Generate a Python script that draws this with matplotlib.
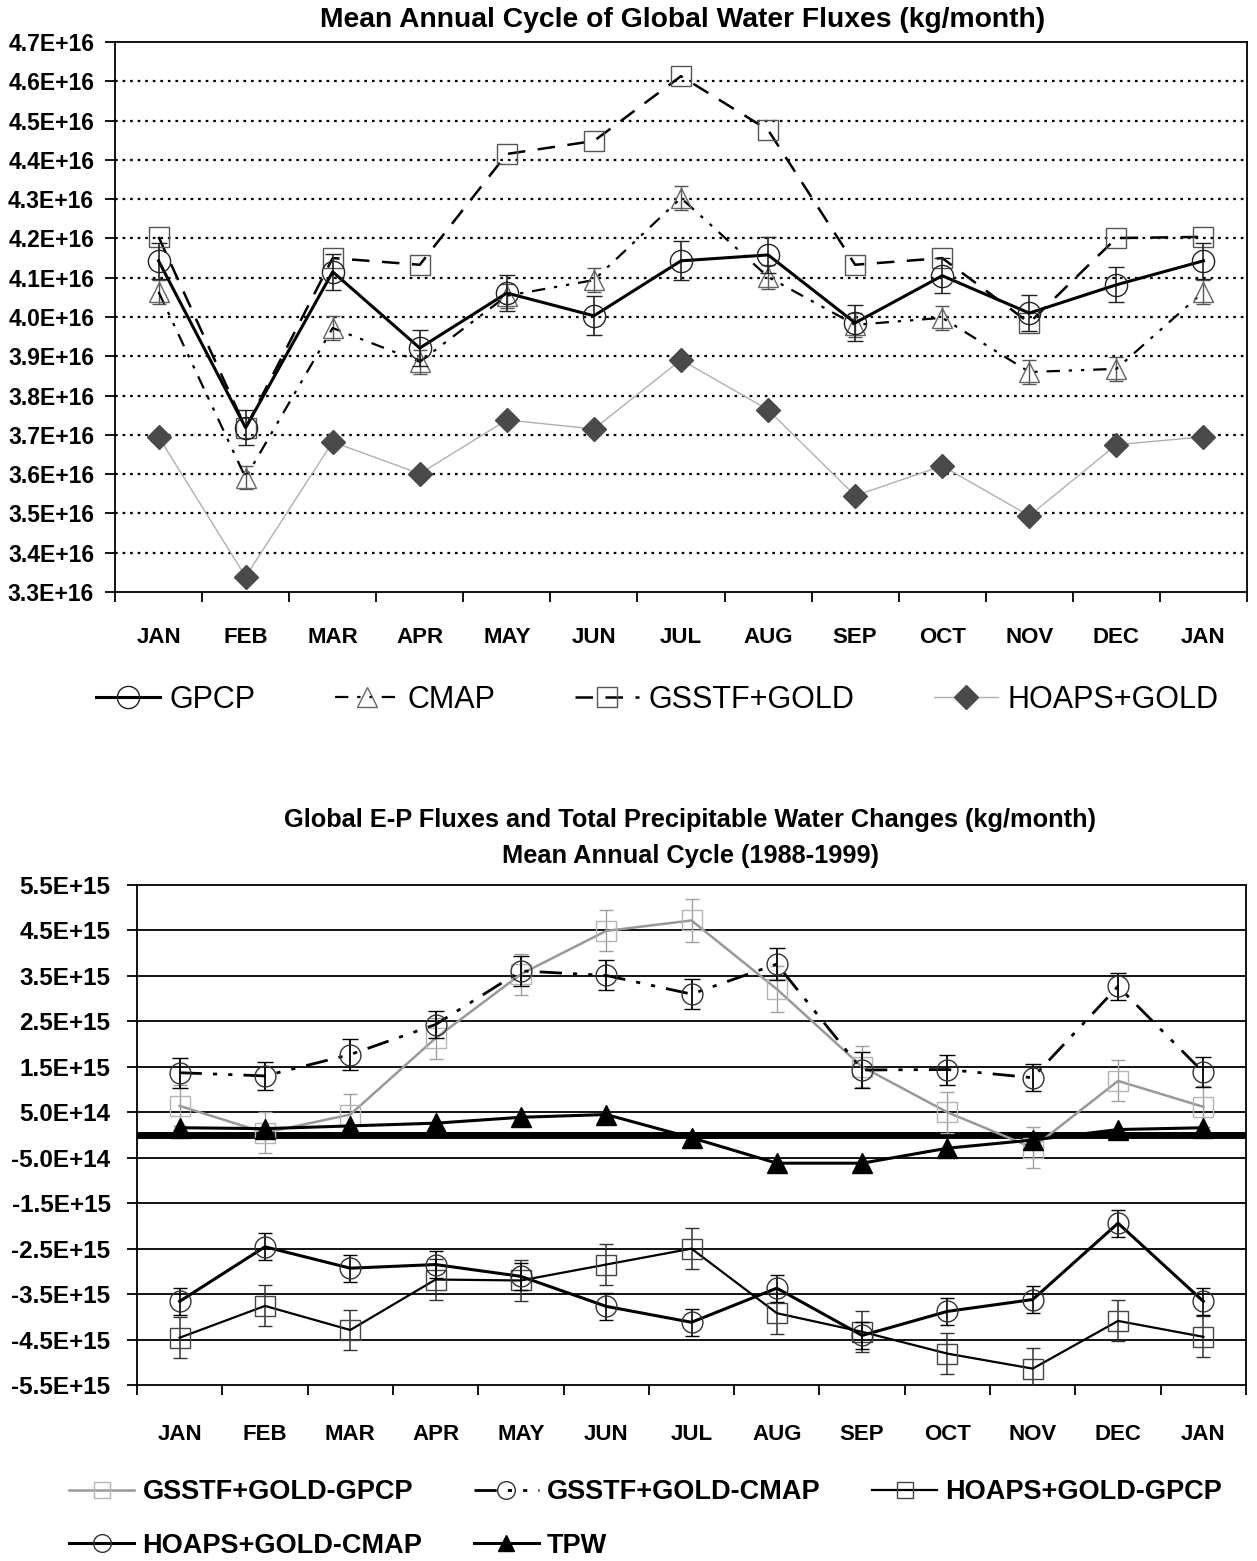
import matplotlib
matplotlib.use("Agg")
import matplotlib.pyplot as plt
import numpy as np

plt.rcParams['font.family'] = ['Liberation Sans', 'DejaVu Sans']

months = ["JAN", "FEB", "MAR", "APR", "MAY", "JUN", "JUL", "AUG", "SEP", "OCT", "NOV", "DEC", "JAN"]

# Top chart (units of 1E16 kg/month)
gpcp = [4.143, 3.718, 4.115, 3.921, 4.061, 4.003, 4.143, 4.158, 3.985, 4.105, 4.010, 4.082, 4.143]
gpcp_err = [0.045, 0.045, 0.045, 0.045, 0.045, 0.05, 0.05, 0.045, 0.045, 0.045, 0.045, 0.045, 0.045]
cmap = [4.064, 3.591, 3.972, 3.886, 4.054, 4.094, 4.303, 4.102, 3.980, 3.998, 3.860, 3.868, 4.064]
cmap_err = [0.03] * 13
gsstf = [4.204, 3.718, 4.150, 4.133, 4.415, 4.448, 4.613, 4.476, 4.133, 4.150, 3.985, 4.201, 4.204]
hoaps = [3.695, 3.339, 3.682, 3.601, 3.738, 3.715, 3.891, 3.764, 3.545, 3.621, 3.494, 3.675, 3.695]
top_ticks = [3.3, 3.4, 3.5, 3.6, 3.7, 3.8, 3.9, 4.0, 4.1, 4.2, 4.3, 4.4, 4.5, 4.6, 4.7]

# Bottom chart (units of 1E15 kg/month)
gg_gpcp = [0.64, 0.05, 0.45, 2.13, 3.54, 4.49, 4.72, 3.21, 1.50, 0.50, -0.28, 1.19, 0.62]
gg_gpcp_err = [0.45, 0.45, 0.45, 0.45, 0.45, 0.45, 0.48, 0.5, 0.45, 0.45, 0.45, 0.45, 0.45]
gg_cmap = [1.37, 1.30, 1.77, 2.43, 3.61, 3.51, 3.10, 3.76, 1.43, 1.44, 1.26, 3.27, 1.38]
gg_cmap_err = [0.33, 0.3, 0.35, 0.3, 0.33, 0.33, 0.33, 0.35, 0.4, 0.33, 0.3, 0.3, 0.33]
hg_gpcp = [-4.46, -3.76, -4.29, -3.18, -3.20, -2.85, -2.50, -3.92, -4.33, -4.81, -5.14, -4.09, -4.44]
hg_gpcp_err = [0.45, 0.45, 0.45, 0.45, 0.45, 0.45, 0.45, 0.45, 0.45, 0.45, 0.45, 0.45, 0.45]
hg_cmap = [-3.66, -2.46, -2.93, -2.85, -3.11, -3.77, -4.12, -3.37, -4.41, -3.88, -3.62, -1.94, -3.66]
hg_cmap_err = [0.3, 0.3, 0.3, 0.3, 0.3, 0.3, 0.3, 0.3, 0.3, 0.3, 0.3, 0.3, 0.3]
tpw = [0.16, 0.14, 0.20, 0.26, 0.39, 0.45, -0.06, -0.62, -0.62, -0.29, -0.11, 0.12, 0.16]
bot_ticks = [-5.5, -4.5, -3.5, -2.5, -1.5, -0.5, 0.5, 1.5, 2.5, 3.5, 4.5, 5.5]
bot_labels = ["-5.5E+15", "-4.5E+15", "-3.5E+15", "-2.5E+15", "-1.5E+15", "-5.0E+14",
              "5.0E+14", "1.5E+15", "2.5E+15", "3.5E+15", "4.5E+15", "5.5E+15"]

W, H = 1257, 1561
fig = plt.figure(figsize=(W / 100, H / 100), dpi=100)
fig.patch.set_facecolor('white')

x = np.arange(len(months))

def style_axes(ax, ysize, xpad, ypad):
    for s in ax.spines.values():
        s.set_color('black')
        s.set_linewidth(1.3)
    ax.set_xlim(-0.5, len(months) - 0.5)
    ax.set_xticks(x)
    ax.set_xticklabels(months, fontsize=16, fontweight='bold')
    ax.tick_params(axis='x', which='major', length=0, pad=xpad)
    ax.set_xticks(np.arange(-0.5, len(months), 1.0), minor=True)
    ax.tick_params(axis='x', which='minor', length=7, width=1.3, direction='out')
    ax.tick_params(axis='y', length=7, width=1.3, direction='out', pad=ypad, labelsize=ysize)

# ---------------- Top chart ----------------
ax1 = fig.add_axes([115 / W, 1 - 592 / H, (1247 - 115) / W, (592 - 42) / H])
style_axes(ax1, 16.5, 25, 8)
ax1.set_ylim(3.3, 4.7)
ax1.set_yticks(top_ticks)
ax1.set_yticklabels([f"{t:.1f}E+16" for t in top_ticks], fontweight='bold', fontsize=16.5)
for t in top_ticks[1:-1]:
    ax1.axhline(t, color='black', lw=1.6, ls=(0, (1.2, 2.2)), zorder=0)

l_hoaps, = ax1.plot(x, hoaps, color='#b0b0b0', lw=1.0, marker='D', ms=12,
                    mfc='#4a4a4a', mec='#4a4a4a', zorder=2, label='HOAPS+GOLD')
ax1.errorbar(x, cmap, yerr=cmap_err, fmt='none', ecolor='#555555', elinewidth=1.0, capsize=5, zorder=3)
l_cmap, = ax1.plot(x, cmap, color='black', lw=1.6, ls=(0, (6, 4, 1.5, 4, 1.5, 4)), marker='^', ms=14,
                   mfc='none', mec='#666666', mew=1.0, zorder=3, label='CMAP')
l_gsstf, = ax1.plot(x, gsstf, color='black', lw=1.8, ls=(0, (7, 5)), marker='s', ms=14,
                    mfc='none', mec='#555555', mew=1.0, zorder=3, label='GSSTF+GOLD')
ax1.errorbar(x, gpcp, yerr=gpcp_err, fmt='none', ecolor='#222222', elinewidth=1.2, capsize=6, zorder=4)
l_gpcp, = ax1.plot(x, gpcp, color='black', lw=2.2, marker='o', ms=16,
                   mfc='none', mec='#222222', mew=1.0, zorder=4, label='GPCP')

fig.text(683 / W, 1 - 20 / H, "Mean Annual Cycle of Global Water Fluxes (kg/month)",
         ha='center', va='center', fontsize=20.3, fontweight='bold')

fig.legend([l_gpcp, l_cmap, l_gsstf, l_hoaps], ['GPCP', 'CMAP', 'GSSTF+GOLD', 'HOAPS+GOLD'],
           loc='center', bbox_to_anchor=(657 / W, 1 - 700 / H), ncol=4, frameon=False,
           prop={'size': 22}, handlelength=2.1, columnspacing=2.6, handletextpad=0.3)

# ---------------- Bottom chart ----------------
ax2 = fig.add_axes([137 / W, 1 - 1385 / H, (1246 - 137) / W, (1385 - 885) / H])
style_axes(ax2, 17.5, 28, 12)
ax2.set_ylim(-5.5, 5.5)
ax2.set_yticks(bot_ticks)
ax2.set_yticklabels(bot_labels, fontweight='bold', fontsize=17.5)
for t in bot_ticks[1:-1]:
    ax2.axhline(t, color='black', lw=1.3, zorder=0)
ax2.axhline(0, color='black', lw=5, zorder=1)

ax2.errorbar(x, gg_gpcp, yerr=gg_gpcp_err, fmt='none', ecolor='#a0a0a0', elinewidth=1.0, capsize=5, zorder=2)
b1, = ax2.plot(x, gg_gpcp, color='#999999', lw=1.8, marker='s', ms=14, mfc='none',
               mec='#b5b5b5', mew=1.0, zorder=2, label='GSSTF+GOLD-GPCP')
ax2.errorbar(x, gg_cmap, yerr=gg_cmap_err, fmt='none', ecolor='black', elinewidth=1.3, capsize=6, zorder=3)
b2, = ax2.plot(x, gg_cmap, color='black', lw=2.0, ls=(0, (8, 4, 1.5, 4, 1.5, 4)), marker='o', ms=15,
               mfc='none', mec='#333333', mew=1.0, zorder=3, label='GSSTF+GOLD-CMAP')
ax2.errorbar(x, hg_gpcp, yerr=hg_gpcp_err, fmt='none', ecolor='#333333', elinewidth=1.1, capsize=5, zorder=3)
b3, = ax2.plot(x, hg_gpcp, color='black', lw=1.6, marker='s', ms=14, mfc='none',
               mec='#444444', mew=1.0, zorder=3, label='HOAPS+GOLD-GPCP')
ax2.errorbar(x, hg_cmap, yerr=hg_cmap_err, fmt='none', ecolor='black', elinewidth=1.2, capsize=5, zorder=4)
b4, = ax2.plot(x, hg_cmap, color='black', lw=2.2, marker='o', ms=15, mfc='none',
               mec='#333333', mew=1.0, zorder=4, label='HOAPS+GOLD-CMAP')
b5, = ax2.plot(x, tpw, color='black', lw=2.2, marker='^', ms=14, mfc='black', mec='black',
               zorder=5, label='TPW')

fig.text(690 / W, 1 - 820 / H, "Global E-P Fluxes and Total Precipitable Water Changes (kg/month)",
         ha='center', va='center', fontsize=18.3, fontweight='bold')
fig.text(690 / W, 1 - 856 / H, "Mean Annual Cycle (1988-1999)",
         ha='center', va='center', fontsize=18.3, fontweight='bold')

handles = [b1, b4, b2, b5, b3]
labels = [h.get_label() for h in handles]
fig.legend(handles, labels, loc='center left', bbox_to_anchor=(45 / W, 1 - 1519 / H), ncol=3,
           frameon=False, prop={'size': 19.5, 'weight': 'bold'}, markerscale=0.85,
           handlelength=2.4, columnspacing=1.9, handletextpad=0.3, labelspacing=1.0)

fig.savefig("out.png", dpi=100, facecolor='white')
